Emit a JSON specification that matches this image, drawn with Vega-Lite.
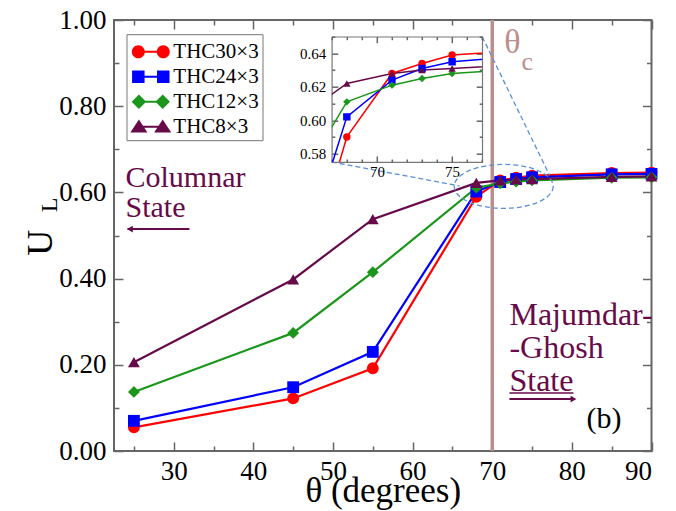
{
  "$schema": "https://vega.github.io/schema/vega-lite/v6.json",
  "background": "white",
  "padding": {"left": 21, "top": 5, "right": 5, "bottom": 2},
  "config": {
    "font": "Liberation Serif",
    "view": {"stroke": null},
    "style": {"guide-label": {"font": "Liberation Serif"}, "guide-title": {"font": "Liberation Serif"}},
    "legend": {"labelFont": "Liberation Serif"},
    "axis": {"grid": false, "domain": false, "tickColor": "#666", "tickWidth": 1.5, "labelColor": "black", "labelFont": "Liberation Serif", "titleFont": "Liberation Serif", "titleFontWeight": "normal", "titleColor": "black"}
  },
  "datasets": {
    "d": [
      {"theta": 25, "UL": 0.055, "series": "THC30×3"},
      {"theta": 45, "UL": 0.122, "series": "THC30×3"},
      {"theta": 55, "UL": 0.192, "series": "THC30×3"},
      {"theta": 68, "UL": 0.590, "series": "THC30×3"},
      {"theta": 71, "UL": 0.628, "series": "THC30×3"},
      {"theta": 73, "UL": 0.634, "series": "THC30×3"},
      {"theta": 75, "UL": 0.639, "series": "THC30×3"},
      {"theta": 85, "UL": 0.645, "series": "THC30×3"},
      {"theta": 90, "UL": 0.646, "series": "THC30×3"},
      {"theta": 25, "UL": 0.070, "series": "THC24×3"},
      {"theta": 45, "UL": 0.148, "series": "THC24×3"},
      {"theta": 55, "UL": 0.230, "series": "THC24×3"},
      {"theta": 68, "UL": 0.602, "series": "THC24×3"},
      {"theta": 71, "UL": 0.624, "series": "THC24×3"},
      {"theta": 73, "UL": 0.631, "series": "THC24×3"},
      {"theta": 75, "UL": 0.635, "series": "THC24×3"},
      {"theta": 85, "UL": 0.642, "series": "THC24×3"},
      {"theta": 90, "UL": 0.643, "series": "THC24×3"},
      {"theta": 25, "UL": 0.137, "series": "THC12×3"},
      {"theta": 45, "UL": 0.274, "series": "THC12×3"},
      {"theta": 55, "UL": 0.415, "series": "THC12×3"},
      {"theta": 68, "UL": 0.611, "series": "THC12×3"},
      {"theta": 71, "UL": 0.621, "series": "THC12×3"},
      {"theta": 73, "UL": 0.625, "series": "THC12×3"},
      {"theta": 75, "UL": 0.628, "series": "THC12×3"},
      {"theta": 85, "UL": 0.634, "series": "THC12×3"},
      {"theta": 90, "UL": 0.635, "series": "THC12×3"},
      {"theta": 25, "UL": 0.206, "series": "THC8×3"},
      {"theta": 45, "UL": 0.398, "series": "THC8×3"},
      {"theta": 55, "UL": 0.538, "series": "THC8×3"},
      {"theta": 68, "UL": 0.622, "series": "THC8×3"},
      {"theta": 71, "UL": 0.628, "series": "THC8×3"},
      {"theta": 73, "UL": 0.630, "series": "THC8×3"},
      {"theta": 75, "UL": 0.631, "series": "THC8×3"},
      {"theta": 85, "UL": 0.636, "series": "THC8×3"},
      {"theta": 90, "UL": 0.637, "series": "THC8×3"}
    ]
  },
  "bounds": "flush",
  "align": "none",
  "spacing": -320.2,
  "resolve": {"scale": {"x": "independent", "y": "independent", "color": "independent", "shape": "independent"}},
  "hconcat": [
    {
      "width": 537.5,
      "height": 431,
      "view": {"stroke": "#666", "strokeWidth": 2},
      "resolve": {"scale": {"color": "independent", "shape": "independent"}, "axis": {"x": "independent", "y": "independent"}},
      "layer": [
        {
          "data": {"values": [{}]},
          "mark": {"type": "rule", "color": "#bb8e8e", "strokeWidth": 3.5},
          "encoding": {"x": {"datum": 70, "type": "quantitative", "axis": null}}
        },
        {
          "data": {"name": "d"},
          "mark": {"type": "line", "strokeWidth": 2.2},
          "encoding": {
            "x": {"field": "theta", "type": "quantitative",
              "scale": {"domain": [22.5, 90], "nice": false, "zero": false},
              "axis": {"orient": "bottom", "values": [25,30,35,40,45,50,55,60,65,70,75,80,85,90],
                "labelExpr": "datum.value % 10 === 0 ? datum.label : ''",
                "tickSize": {"expr": "datum.value % 10 === 0 ? -9 : -5"},
                "labelFont": "Liberation Serif", "labelFontSize": 27, "labelPadding": 16,
                "title": "θ (degrees)", "titleFont": "Liberation Serif", "titleFontSize": 35, "titleBaseline": "alphabetic", "titleY": 50}},
            "y": {"field": "UL", "type": "quantitative",
              "scale": {"domain": [0, 1], "nice": false, "zero": false},
              "axis": {"orient": "left", "values": [0,0.1,0.2,0.3,0.4,0.5,0.6,0.7,0.8,0.9,1],
                "labelExpr": "round(datum.value*10) % 2 === 0 ? format(datum.value, '.2f') : ''",
                "tickSize": {"expr": "round(datum.value*10) % 2 === 0 ? -9 : -5"},
                "labelFont": "Liberation Serif", "labelFontSize": 27, "labelPadding": 17, "title": null}},
            "color": {"field": "series", "type": "nominal", "legend": null,
              "scale": {"domain": ["THC30×3","THC24×3","THC12×3","THC8×3"], "range": ["#ff0000","#0000ff","#1a961a","#670a4a"]}}
          }
        },
        {
          "data": {"name": "d"},
          "mark": {"type": "point", "filled": true, "opacity": 1, "size": 140},
          "encoding": {
            "x": {"field": "theta", "type": "quantitative",
              "axis": {"orient": "top", "values": [25,30,35,40,45,50,55,60,65,70,75,80,85,90], "labels": false,
                "tickSize": {"expr": "datum.value % 10 === 0 ? -9 : -5"}, "title": null}},
            "y": {"field": "UL", "type": "quantitative",
              "axis": {"orient": "right", "values": [0,0.1,0.2,0.3,0.4,0.5,0.6,0.7,0.8,0.9,1], "labels": false,
                "tickSize": {"expr": "round(datum.value*10) % 2 === 0 ? -9 : -5"}, "title": null}},
            "color": {"field": "series", "type": "nominal", "legend": null,
              "scale": {"domain": ["THC30×3","THC24×3","THC12×3","THC8×3"], "range": ["#ff0000","#0000ff","#1a961a","#670a4a"]}},
            "shape": {"field": "series", "type": "nominal", "legend": null,
              "scale": {"domain": ["THC30×3","THC24×3","THC12×3","THC8×3"], "range": ["circle","square","diamond","triangle-up"]}}
          }
        },
        {
          "data": {"name": "d"},
          "transform": [{"filter": "false"}],
          "mark": {"type": "point", "filled": true, "opacity": 1, "size": 841},
          "encoding": {
            "color": {"field": "series", "type": "nominal",
              "scale": {"domain": ["THC30×3","THC24×3","THC12×3","THC8×3"], "range": ["#ff0000","#0000ff","#1a961a","#670a4a"]},
              "legend": {"orient": "none", "legendX": 12.5, "legendY": 14.2, "title": null, "strokeColor": "#777", "fillColor": "white", "padding": 3,
                "labelFont": "Liberation Serif", "labelFontSize": 21, "labelColor": "black", "symbolSize": 841, "symbolOffset": 6.8, "labelOffset": 8, "rowPadding": 0, "symbolStrokeWidth": 0}},
            "shape": {"field": "series", "type": "nominal",
              "scale": {"domain": ["THC30×3","THC24×3","THC12×3","THC8×3"], "range": [
                "M-0.41,0C-0.41,0.2485 -0.6115,0.45 -0.86,0.45C-1.1085,0.45 -1.31,0.2485 -1.31,0C-1.31,-0.2485 -1.1085,-0.45 -0.86,-0.45C-0.6115,-0.45 -0.41,-0.2485 -0.41,0ZM1.31,0C1.31,0.2485 1.1085,0.45 0.86,0.45C0.6115,0.45 0.41,0.2485 0.41,0C0.41,-0.2485 0.6115,-0.45 0.86,-0.45C1.1085,-0.45 1.31,-0.2485 1.31,0ZM-0.86,-0.07L0.86,-0.07L0.86,0.07L-0.86,0.07Z",
                "M-1.29,-0.43L-0.43,-0.43L-0.43,0.43L-1.29,0.43ZM0.43,-0.43L1.29,-0.43L1.29,0.43L0.43,0.43ZM-0.86,-0.07L0.86,-0.07L0.86,0.07L-0.86,0.07Z",
                "M-0.82,-0.5L-0.32,0L-0.82,0.5L-1.32,0ZM0.82,-0.5L1.32,0L0.82,0.5L0.32,0ZM-0.82,-0.07L0.82,-0.07L0.82,0.07L-0.82,0.07Z",
                "M-0.82,-0.5L-0.23,0.4L-1.41,0.4ZM0.82,-0.5L1.41,0.4L0.23,0.4ZM-0.82,-0.07L0.82,-0.07L0.82,0.07L-0.82,0.07Z"]},
              "legend": {"orient": "none", "legendX": 12.5, "legendY": 14.2, "title": null, "strokeColor": "#777", "fillColor": "white", "padding": 3,
                "labelFont": "Liberation Serif", "labelFontSize": 21, "labelColor": "black", "symbolSize": 841, "symbolOffset": 6.8, "labelOffset": 8, "rowPadding": 0, "symbolStrokeWidth": 0}}
          }
        },
        {
          "data": {"values": [{}]},
          "mark": {"type": "point", "filled": false, "opacity": 1, "color": "#5b8fd6", "strokeWidth": 1.3, "strokeDash": [5, 3], "size": 9801,
            "shape": "M1,0C1,0.2452 0.5523,0.444 0,0.444C-0.5523,0.444 -1,0.2452 -1,0C-1,-0.2452 -0.5523,-0.444 0,-0.444C0.5523,-0.444 1,-0.2452 1,0Z"},
          "encoding": {"x": {"datum": 71.44, "type": "quantitative", "axis": null}, "y": {"datum": 0.614, "type": "quantitative", "axis": null}}
        },
        {
          "data": {"values": [{}]},
          "mark": {"type": "rule", "color": "#5b8fd6", "strokeWidth": 1.3, "strokeDash": [5, 3]},
          "encoding": {"x": {"datum": 68.74, "type": "quantitative", "axis": null}, "y": {"datum": 0.9613, "type": "quantitative", "axis": null},
            "x2": {"datum": 77.19}, "y2": {"datum": 0.64}}
        },
        {
          "data": {"values": [{}]},
          "mark": {"type": "rule", "color": "#5b8fd6", "strokeWidth": 1.3, "strokeDash": [5, 3]},
          "encoding": {"x": {"datum": 49.85, "type": "quantitative", "axis": null}, "y": {"datum": 0.6705, "type": "quantitative", "axis": null},
            "x2": {"datum": 65.9}, "y2": {"datum": 0.615}}
        },
        {
          "data": {"values": [{}]},
          "mark": {"type": "text", "text": "θ", "fontSize": 34, "color": "#bb8e8e", "align": "left", "baseline": "alphabetic"},
          "encoding": {"x": {"datum": 71.5, "type": "quantitative", "axis": null}, "y": {"datum": 0.923, "type": "quantitative", "axis": null}}
        },
        {
          "data": {"values": [{}]},
          "mark": {"type": "text", "text": "c", "fontSize": 26, "color": "#bb8e8e", "align": "left", "baseline": "alphabetic"},
          "encoding": {"x": {"datum": 73.68, "type": "quantitative", "axis": null}, "y": {"datum": 0.883, "type": "quantitative", "axis": null}}
        },
        {
          "data": {"values": [{}]},
          "mark": {"type": "text", "text": ["Columnar", "State"], "lineHeight": 30, "fontSize": 30, "color": "#670a4a", "align": "left", "baseline": "alphabetic"},
          "encoding": {"x": {"datum": 23.94, "type": "quantitative", "axis": null}, "y": {"datum": 0.6125, "type": "quantitative", "axis": null}}
        },
        {
          "data": {"values": [{}]},
          "mark": {"type": "rule", "color": "#670a4a", "strokeWidth": 2},
          "encoding": {"x": {"datum": 24.2, "type": "quantitative", "axis": null}, "y": {"datum": 0.515, "type": "quantitative", "axis": null},
            "x2": {"datum": 31.97}}
        },
        {
          "data": {"values": [{}]},
          "mark": {"type": "point", "shape": "triangle-left", "filled": true, "opacity": 1, "size": 45, "color": "#670a4a"},
          "encoding": {"x": {"datum": 24.5, "type": "quantitative", "axis": null}, "y": {"datum": 0.515, "type": "quantitative", "axis": null}}
        },
        {
          "data": {"values": [{}]},
          "mark": {"type": "text", "text": ["Majumdar-", "-Ghosh", "State"], "lineHeight": 33, "fontSize": 32, "color": "#670a4a", "align": "left", "baseline": "alphabetic"},
          "encoding": {"x": {"datum": 72.16, "type": "quantitative", "axis": null}, "y": {"datum": 0.2923, "type": "quantitative", "axis": null}}
        },
        {
          "data": {"values": [{}]},
          "mark": {"type": "rule", "color": "#670a4a", "strokeWidth": 1.5},
          "encoding": {"x": {"datum": 72.16, "type": "quantitative", "axis": null}, "y": {"datum": 0.1346, "type": "quantitative", "axis": null},
            "x2": {"datum": 80.2}}
        },
        {
          "data": {"values": [{}]},
          "mark": {"type": "rule", "color": "#670a4a", "strokeWidth": 2},
          "encoding": {"x": {"datum": 72.16, "type": "quantitative", "axis": null}, "y": {"datum": 0.1206, "type": "quantitative", "axis": null},
            "x2": {"datum": 80.3}}
        },
        {
          "data": {"values": [{}]},
          "mark": {"type": "point", "shape": "triangle-right", "filled": true, "opacity": 1, "size": 45, "color": "#670a4a"},
          "encoding": {"x": {"datum": 80.2, "type": "quantitative", "axis": null}, "y": {"datum": 0.1206, "type": "quantitative", "axis": null}}
        },
        {
          "data": {"values": [{}]},
          "mark": {"type": "text", "text": "(b)", "fontSize": 30, "color": "black", "align": "left", "baseline": "alphabetic"},
          "encoding": {"x": {"datum": 81.84, "type": "quantitative", "axis": null}, "y": {"datum": 0.0534, "type": "quantitative", "axis": null}}
        },
        {
          "data": {"values": [{}]},
          "mark": {"type": "text", "text": "U", "fontSize": 36, "color": "black", "align": "center", "baseline": "alphabetic", "angle": 270, "dy": -62.5},
          "encoding": {"x": {"datum": 22.5, "type": "quantitative", "axis": null}, "y": {"datum": 0.483, "type": "quantitative", "axis": null}}
        },
        {
          "data": {"values": [{}]},
          "mark": {"type": "text", "text": "L", "fontSize": 24, "color": "black", "align": "center", "baseline": "alphabetic", "angle": 270, "dy": -57.5},
          "encoding": {"x": {"datum": 22.5, "type": "quantitative", "axis": null}, "y": {"datum": 0.571, "type": "quantitative", "axis": null}}
        }
      ]
    },
    {
      "bounds": "flush",
      "align": "none",
      "spacing": 15.7,
      "vconcat": [
        {
          "width": 1,
          "height": 1,
          "view": {"stroke": null},
          "data": {"values": []},
          "mark": "point"
        },
        {
          "width": 150.4,
          "height": 125.3,
          "view": {"stroke": "#777", "strokeWidth": 1.2, "fill": "white"},
          "data": {"name": "d"},
          "resolve": {"scale": {"color": "independent", "shape": "independent"}, "axis": {"x": "independent", "y": "independent"}},
          "layer": [
            {
              "mark": {"type": "line", "strokeWidth": 1.5, "clip": true},
              "encoding": {
                "x": {"field": "theta", "type": "quantitative",
                  "scale": {"domain": [67, 77], "nice": false, "zero": false},
                  "axis": {"orient": "bottom", "values": [67,68,69,70,71,72,73,74,75,76,77],
                    "labelExpr": "datum.value % 5 === 0 ? datum.label : ''",
                    "tickSize": {"expr": "datum.value % 5 === 0 ? -6 : -3"},
                    "labelFont": "Liberation Serif", "labelFontSize": 15, "labelPadding": 8, "title": null}},
                "y": {"field": "UL", "type": "quantitative",
                  "scale": {"domain": [0.575, 0.65], "nice": false, "zero": false},
                  "axis": {"orient": "left", "values": [0.58,0.59,0.6,0.61,0.62,0.63,0.64,0.65],
                    "labelExpr": "round(datum.value*100) % 2 === 0 ? format(datum.value, '.2f') : ''",
                    "tickSize": {"expr": "round(datum.value*100) % 2 === 0 ? -6 : -3"},
                    "labelFont": "Liberation Serif", "labelFontSize": 15, "labelPadding": 12, "title": null}},
                "color": {"field": "series", "type": "nominal", "legend": null,
                  "scale": {"domain": ["THC30×3","THC24×3","THC12×3","THC8×3"], "range": ["#ff0000","#0000ff","#1a961a","#670a4a"]}}
              }
            },
            {
              "mark": {"type": "point", "filled": true, "opacity": 1, "size": 55, "clip": true},
              "encoding": {
                "x": {"field": "theta", "type": "quantitative",
                  "axis": {"orient": "top", "values": [67,68,69,70,71,72,73,74,75,76,77], "labels": false,
                    "tickSize": {"expr": "datum.value % 5 === 0 ? -6 : -3"}, "title": null}},
                "y": {"field": "UL", "type": "quantitative",
                  "axis": {"orient": "right", "values": [0.58,0.59,0.6,0.61,0.62,0.63,0.64,0.65], "labels": false,
                    "tickSize": {"expr": "round(datum.value*100) % 2 === 0 ? -6 : -3"}, "title": null}},
                "color": {"field": "series", "type": "nominal", "legend": null,
                  "scale": {"domain": ["THC30×3","THC24×3","THC12×3","THC8×3"], "range": ["#ff0000","#0000ff","#1a961a","#670a4a"]}},
                "shape": {"field": "series", "type": "nominal", "legend": null,
                  "scale": {"domain": ["THC30×3","THC24×3","THC12×3","THC8×3"], "range": ["circle","square","diamond","triangle-up"]}}
              }
            }
          ]
        }
      ]
    }
  ]
}
